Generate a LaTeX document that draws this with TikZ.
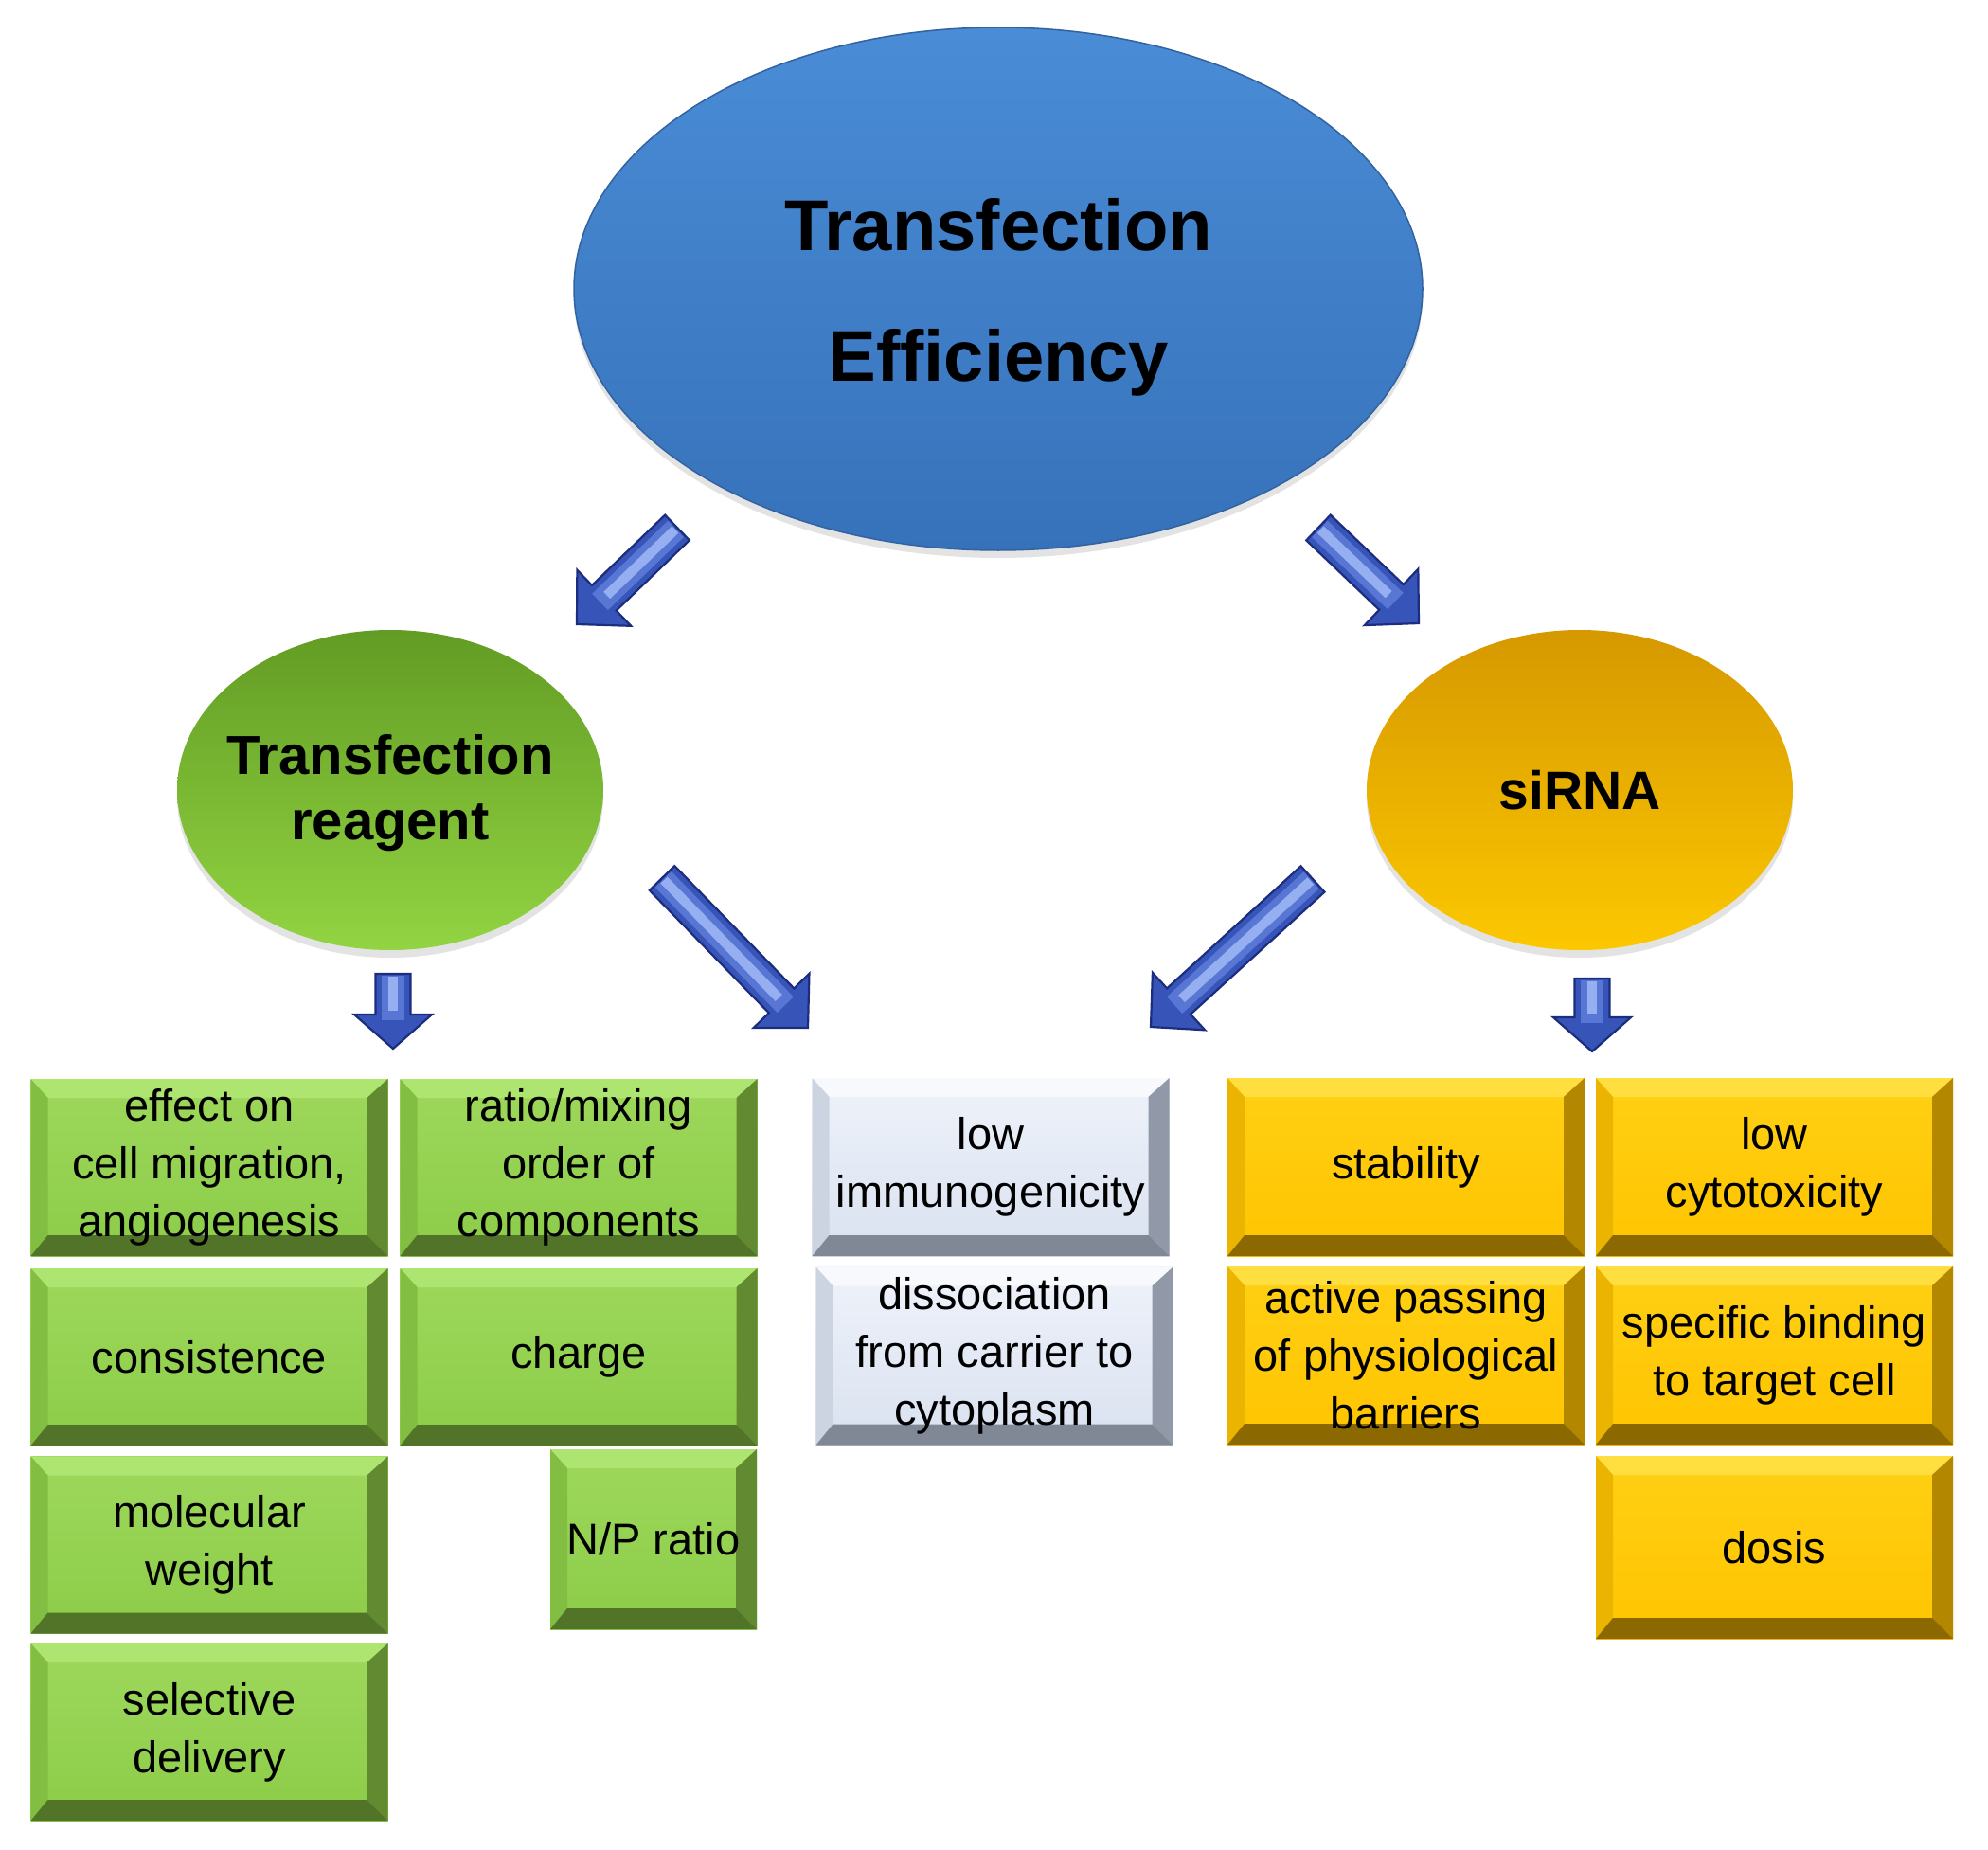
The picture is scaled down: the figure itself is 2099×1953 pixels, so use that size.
\documentclass[tikz,border=0pt]{standalone}
\usepackage{fontspec}
\setmainfont{Liberation Sans}
\usetikzlibrary{calc,shapes.geometric,shadows}

\definecolor{gfaceA}{RGB}{158,216,92}
\definecolor{gfaceB}{RGB}{140,204,72}
\definecolor{gtop}{RGB}{174,228,112}
\definecolor{gleft}{RGB}{130,190,65}
\definecolor{gright}{RGB}{98,138,48}
\definecolor{gbot}{RGB}{82,116,40}

\definecolor{yfaceA}{RGB}{255,208,20}
\definecolor{yfaceB}{RGB}{255,196,0}
\definecolor{ytop}{RGB}{255,222,64}
\definecolor{yleft}{RGB}{235,180,0}
\definecolor{yright}{RGB}{180,135,0}
\definecolor{ybot}{RGB}{140,105,0}

\definecolor{cfaceA}{RGB}{238,242,250}
\definecolor{cfaceB}{RGB}{218,226,240}
\definecolor{ctop}{RGB}{247,249,253}
\definecolor{cleft}{RGB}{205,212,225}
\definecolor{cright}{RGB}{145,152,168}
\definecolor{cbot}{RGB}{128,136,150}

\definecolor{bluetop}{RGB}{74,140,214}
\definecolor{bluebot}{RGB}{54,114,186}
\definecolor{bluerim}{RGB}{50,98,160}
\definecolor{greentop}{RGB}{98,156,36}
\definecolor{greenbot}{RGB}{146,212,66}
\definecolor{yeltop}{RGB}{214,152,0}
\definecolor{yelbot}{RGB}{252,200,0}

\definecolor{arredge}{RGB}{28,45,125}
\definecolor{arrfill}{RGB}{55,85,185}
\definecolor{arrmid}{RGB}{88,118,212}
\definecolor{arrlight}{RGB}{150,175,240}

\newcommand\boxfont{\fontsize{47}{61}\selectfont}

\newcommand\arrpath[3]{($(#1)!18.5pt!90:(#2)$) -- ($(#3)!18.5pt!90:(#2)$) -- ($(#3)!41pt!90:(#2)$) -- (#2) -- ($(#3)!41pt!-90:(#2)$) -- ($(#3)!18.5pt!-90:(#2)$) -- ($(#1)!18.5pt!-90:(#2)$) -- cycle}

% #1 head length, #2 tail coordinate, #3 tip coordinate
\newcommand\blockarrow[3][40pt]{%
  \coordinate (#2hb) at ($(#3)!#1!(#2)$);
  \fill[arrfill] \arrpath{#2}{#3}{#2hb};
  \draw[arrmid, line width=24pt] ($(#2)!2pt!(#3)$) -- ($(#2hb)!6pt!(#3)$);
  \draw[arrlight, line width=10pt] ($(#2)!3pt!(#3)$) -- ($(#2hb)!4pt!(#2)$);
  \draw[arredge, line width=2.2pt, line join=miter] \arrpath{#2}{#3}{#2hb};
}

\tikzset{
  bevel/.style n args={6}{rectangle, inner sep=0pt, align=center, font=\boxfont, text=black,
    top color=#1, bottom color=#2,
    path picture={
      \fill[#3] (path picture bounding box.north west) -- (path picture bounding box.north east)
        -- ([shift={(-22pt,-20pt)}]path picture bounding box.north east)
        -- ([shift={(18pt,-20pt)}]path picture bounding box.north west) -- cycle;
      \fill[#4] (path picture bounding box.north west)
        -- ([shift={(18pt,-20pt)}]path picture bounding box.north west)
        -- ([shift={(18pt,22pt)}]path picture bounding box.south west)
        -- (path picture bounding box.south west) -- cycle;
      \fill[#5] (path picture bounding box.north east) -- (path picture bounding box.south east)
        -- ([shift={(-22pt,22pt)}]path picture bounding box.south east)
        -- ([shift={(-22pt,-20pt)}]path picture bounding box.north east) -- cycle;
      \fill[#6] (path picture bounding box.south west) -- (path picture bounding box.south east)
        -- ([shift={(-22pt,22pt)}]path picture bounding box.south east)
        -- ([shift={(18pt,22pt)}]path picture bounding box.south west) -- cycle;
    }},
  gbox/.style={bevel={gfaceA}{gfaceB}{gtop}{gleft}{gright}{gbot}, minimum width=377pt, minimum height=187pt},
  ybox/.style={bevel={yfaceA}{yfaceB}{ytop}{yleft}{yright}{ybot}, minimum width=377pt, minimum height=188pt},
  cbox/.style={bevel={cfaceA}{cfaceB}{ctop}{cleft}{cright}{cbot}, minimum width=377pt, minimum height=188pt},
  oval/.style={ellipse, inner sep=0pt, text=black,
    drop shadow={opacity=0.22, shadow xshift=0pt, shadow yshift=-8pt}},
  ovaltext/.style={align=center, text=black, inner sep=0pt},
}

\begin{document}
\begin{tikzpicture}[x=1pt,y=-1pt]
\fill[white] (0,0) rectangle (2099,1953);
\useasboundingbox (0,0) rectangle (2099,1953);

% ellipses
\node[oval, minimum width=896pt, minimum height=552pt, top color=bluetop, bottom color=bluebot,
      draw=bluerim, line width=1.5pt,
      label={[ovaltext, name=maintext, yshift=-9pt, font=\fontsize{76}{138}\selectfont\bfseries]center:Transfection\\Efficiency}]
      (main) at (1054,305) {};
\node[oval, minimum width=450pt, minimum height=338pt, top color=greentop, bottom color=greenbot,
      label={[ovaltext, name=reagtext, yshift=-3pt, font=\fontsize{58}{69}\selectfont\bfseries]center:Transfection\\reagent}]
      (reag) at (412,834) {};
\node[oval, minimum width=450pt, minimum height=338pt, top color=yeltop, bottom color=yelbot,
      label={[ovaltext, name=sirnatext, font=\fontsize{57}{68}\selectfont\bfseries]center:siRNA}]
      (sirna) at (1668,834) {};

% green boxes
\node[gbox] (g1) at (221,1232.5) {effect on\\cell migration,\\angiogenesis};
\node[gbox] (g2) at (611,1232.5) {ratio/mixing\\order of\\components};
\node[gbox] (g3) at (221,1432.5) {consistence};
\node[gbox] (g4) at (611,1432.5) {charge};
\node[gbox] (g5) at (221,1631) {molecular\\weight};
\node[gbox, minimum width=218pt, minimum height=190pt] (g6) at (690,1625) {N/P ratio};
\node[gbox] (g7) at (221,1828.5) {selective\\delivery};

% central boxes
\node[cbox] (c1) at (1046,1232) {low\\immunogenicity};
\node[cbox] (c2) at (1050,1431.5) {dissociation\\from carrier to\\cytoplasm};

% yellow boxes
\node[ybox] (y1) at (1484.5,1232) {stability};
\node[ybox] (y2) at (1873.5,1232) {low\\cytotoxicity};
\node[ybox] (y3) at (1484.5,1431) {active passing\\of physiological\\barriers};
\node[ybox] (y4) at (1873.5,1431) {specific binding\\to target cell};
\node[ybox, minimum height=193pt] (y5) at (1873.5,1633.5) {dosis};

% block arrows
\coordinate (a1s) at (715,557);   \coordinate (a1e) at (609,659);
\coordinate (a2s) at (1392,557);  \coordinate (a2e) at (1498,658);
\coordinate (a3s) at (699,927);   \coordinate (a3e) at (853,1085);
\coordinate (a4s) at (1386,928);  \coordinate (a4e) at (1215,1084);
\coordinate (a5s) at (415,1028);  \coordinate (a5e) at (415,1107);
\coordinate (a6s) at (1681,1033); \coordinate (a6e) at (1681,1110);

\blockarrow{a1s}{a1e}
\blockarrow{a2s}{a2e}
\blockarrow{a3s}{a3e}
\blockarrow{a4s}{a4e}
\blockarrow[36pt]{a5s}{a5e}
\blockarrow[36pt]{a6s}{a6e}
\end{tikzpicture}
\end{document}
